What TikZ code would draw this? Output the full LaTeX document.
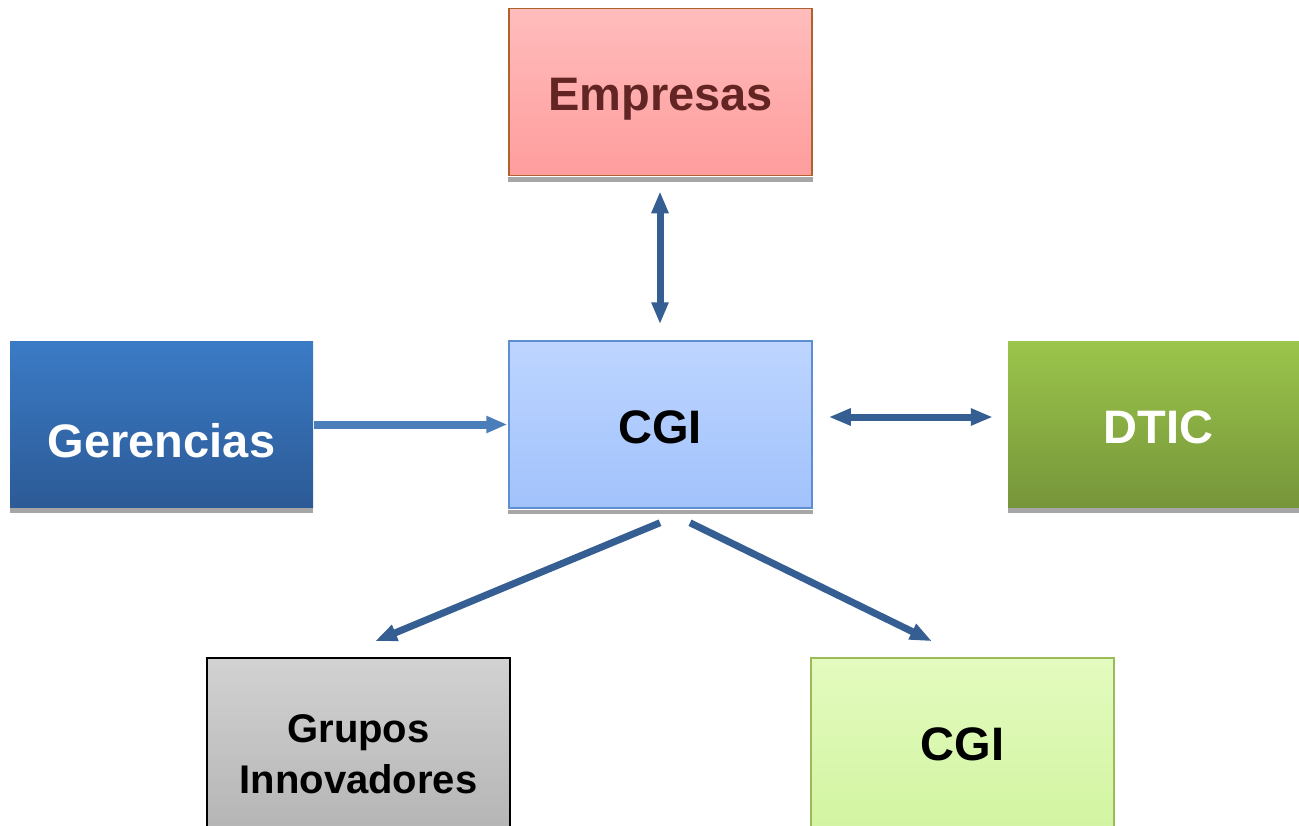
\documentclass[tikz,border=0pt]{standalone}
\usepackage{fontspec}
\setmainfont{Liberation Sans}
\usetikzlibrary{arrows.meta}
\definecolor{arrdark}{HTML}{355E93}
\definecolor{arrlight}{HTML}{4A7EBB}
\definecolor{shadowc}{HTML}{A6A6A6}
\definecolor{empTop}{HTML}{FFBCBC}
\definecolor{empBot}{HTML}{FF9D9D}
\definecolor{empLine}{HTML}{B0622C}
\definecolor{empText}{HTML}{632523}
\definecolor{gerTop}{HTML}{3B7BC6}
\definecolor{gerBot}{HTML}{2C5A96}
\definecolor{cgiTop}{HTML}{BDD5FF}
\definecolor{cgiBot}{HTML}{A2C2FC}
\definecolor{cgiLine}{HTML}{5E8ED2}
\definecolor{dticTop}{HTML}{9BC54B}
\definecolor{dticBot}{HTML}{76953A}
\definecolor{grpTop}{HTML}{D2D2D2}
\definecolor{grpBot}{HTML}{B4B4B4}
\definecolor{cgbTop}{HTML}{E3FBBF}
\definecolor{cgbBot}{HTML}{D2F4A0}
\definecolor{cgbLine}{HTML}{9BBB59}
\begin{document}
\begin{tikzpicture}[x=1pt,y=-1pt,
  box/.style={rectangle, inner sep=0pt, minimum width=303pt, minimum height=167pt},
  bigtxt/.style={font=\fontsize{47}{56}\selectfont\bfseries, inner sep=0pt, anchor=base},
  midtxt/.style={font=\fontsize{40}{51}\selectfont\bfseries, inner sep=0pt, anchor=base},
  arrd/.style={draw=arrdark, line width=7pt, -{Triangle[width=16pt,length=22pt]}},
  arrdd/.style={draw=arrdark, line width=7pt, {Triangle[width=16pt,length=22pt]}-{Triangle[width=16pt,length=22pt]}},
  arrl/.style={draw=arrlight, line width=8pt, -{Triangle[width=16pt,length=21pt]}}]
\useasboundingbox (0,0) rectangle (1299,825);
\clip (0,0) rectangle (1299,825);
\fill[white] (0,0) rectangle (1299,825);
% boxes
\node[box, top color=empTop, bottom color=empBot, draw=empLine, line width=1.5pt] (emp) at (660.5,92) {};
\fill[shadowc] ([yshift=-0.75pt]emp.south west) rectangle ([yshift=-5.5pt]emp.south east);
\node[box, top color=gerTop, bottom color=gerBot] (ger) at (161.5,424.5) {};
\fill[shadowc] (ger.south west) rectangle ([yshift=-5pt]ger.south east);
\node[box, top color=cgiTop, bottom color=cgiBot, draw=cgiLine, line width=1.5pt] (cgi) at (660.5,424.5) {};
\fill[shadowc] ([yshift=-0.75pt]cgi.south west) rectangle ([yshift=-5.5pt]cgi.south east);
\node[box, minimum width=303pt, top color=dticTop, bottom color=dticBot] (dtic) at (1159.5,424.5) {};
\fill[shadowc] (dtic.south west) rectangle ([yshift=-5pt]dtic.south east);
\node[box, minimum height=177pt, top color=grpTop, bottom color=grpBot, draw=black, line width=1.5pt] (grp) at (358.5,746.5) {};
\node[box, minimum height=177pt, top color=cgbTop, bottom color=cgbBot, draw=cgbLine, line width=1.5pt] (cgb) at (962.5,746.5) {};
% texts
\node[bigtxt, text=empText] (empT) at (660.5,110) {Empresas};
\node[bigtxt, text=white] (gerT) at (161.5,457) {Gerencias};
\node[bigtxt, text=black] (cgiT) at (660,443) {CGI};
\node[bigtxt, text=white] (dticT) at (1158.5,443) {DTIC};
\node[midtxt, text=black] (grpT1) at (358.5,742) {Grupos};
\node[midtxt, text=black] (grpT2) at (358.5,793) {Innovadores};
\node[bigtxt, text=black] (cgbT) at (962.5,760) {CGI};
% connectors
\draw[arrdd, shorten <=15pt, shorten >=16pt] ([xshift=-0.5pt]emp.south) -- ([xshift=-0.5pt]cgi.north);
\draw[arrl, shorten <=1pt, shorten >=1pt] (ger.east) -- (cgi.west);
\draw[arrdd, shorten <=16pt, shorten >=15pt] ([yshift=7.5pt]cgi.east) -- ([yshift=7.5pt]dtic.west);
\draw[arrd] ([xshift=-0.5pt,yshift=-14pt]cgi.south) -- ([xshift=16.5pt,yshift=16pt]grp.north);
\draw[arrd] ([xshift=29.5pt,yshift=-14pt]cgi.south) -- ([xshift=-30.5pt,yshift=16pt]cgb.north);
\end{tikzpicture}
\end{document}
